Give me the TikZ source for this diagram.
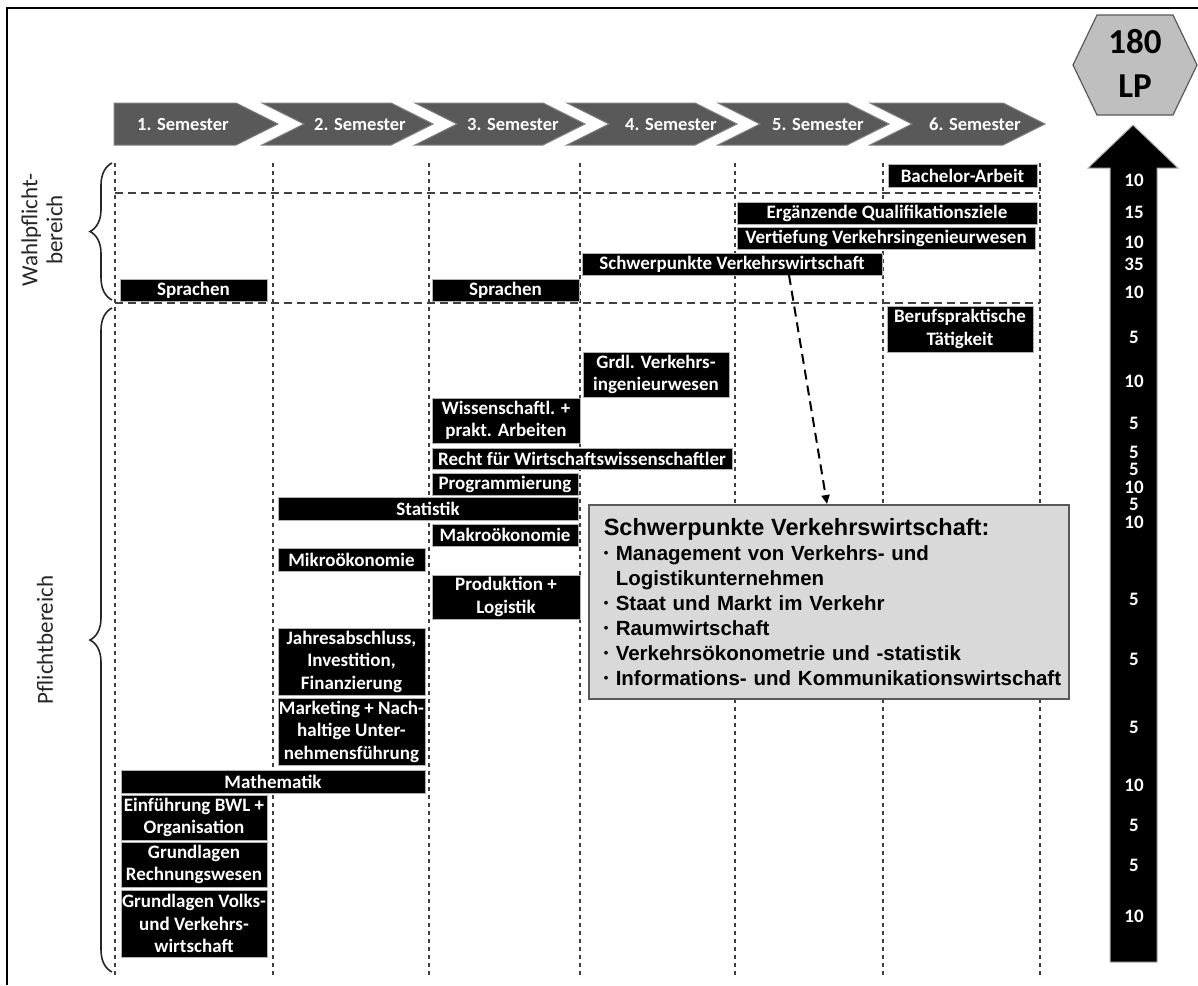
\documentclass[tikz,border=0pt]{standalone}
\usepackage{fontspec}
\setmainfont{Carlito}
\newfontfamily\arialf{Liberation Sans}
\usetikzlibrary{decorations.pathreplacing,calc,arrows.meta}
\definecolor{chevgray}{HTML}{595959}
\definecolor{chevline}{HTML}{7F7F7F}
\definecolor{boxgray}{HTML}{D9D9D9}
\definecolor{hexgray}{HTML}{BFBFBF}
\newcommand{\modbox}[6]{\node[modbox, minimum width={#4pt-#2pt}, minimum height={#5pt-#3pt}] (#1) at ({(#2+#4)/2},{(#3+#5)/2}) {#6};}
\newcommand{\bul}{\makebox[12pt][l]{\raisebox{2.5pt}{\fontsize{13}{13}\selectfont\textbullet}}}
\begin{document}
\begin{tikzpicture}[x=1pt,y=-1pt,
  modbox/.style={fill=black, draw=gray!60, line width=0.8pt, text=white, font=\bfseries\fontsize{19}{22.5}\selectfont, inner sep=0pt, outer sep=0pt, align=center},
  chev/.style={fill=chevgray, draw=chevline, line width=1pt},
  semlabel/.style={text=white, font=\bfseries\fontsize{18.5}{22}\selectfont, inner sep=0pt},
  vgrid/.style={dash pattern=on 4pt off 4pt, line width=1.6pt, draw=black!75},
  hgrid/.style={dash pattern=on 8pt off 5pt, line width=1.6pt, draw=black!75},
  lpnum/.style={text=white, font=\bfseries\fontsize{19}{22}\selectfont, inner sep=0pt, text height=11.5pt, text depth=0pt},
  bracestyle/.style={decorate, decoration={brace, amplitude=22pt}, line width=1.6pt, draw=black!85},
  sidelabel/.style={rotate=90, align=center, font=\fontsize{23}{25}\selectfont, text=black!85},
]
\useasboundingbox (0,0) rectangle (1198,985);
\fill[white] (0,0) rectangle (1198,985);
\draw[line width=2.5pt] (1198,8) -- (7,8) -- (7,985);

% grid
\foreach \x in {115,273,429,580,735,883,1040} \draw[vgrid] (\x,163) -- (\x,975);
\draw[hgrid] (115,193) -- (1040,193);
\draw[hgrid] (115,303) -- (1040,303);

% braces and side labels
\draw[bracestyle] (112,300) -- (112,163);
\draw[bracestyle] (112,972) -- (112,308);
\node[sidelabel] (wahl) at (42,230) {Wahlpflicht-\\bereich};
\node[sidelabel] (pflicht) at (45,640) {Pflichtbereich};

% semester chevrons
\draw[chev] (114,103) -- (236,103) -- (278,124) -- (236,145) -- (114,145) -- cycle;
\foreach \L/\S in {262/391, 415/543, 567/695, 718/847, 870/1003}
  \draw[chev] (\L,103) -- (\S,103) -- ({\S+42},124) -- (\S,145) -- (\L,145) -- ({\L+42},124) -- cycle;
\node[semlabel] (s1) at (183,124) {1. Semester};
\node[semlabel] (s2) at (360,124) {2. Semester};
\node[semlabel] (s3) at (513,124) {3. Semester};
\node[semlabel] (s4) at (671,124) {4. Semester};
\node[semlabel] (s5) at (818,124) {5. Semester};
\node[semlabel] (s6) at (975,124) {6. Semester};

% Wahlpflichtbereich
\modbox{mbach}{888}{164}{1037}{187}{Bachelor-Arbeit}
\modbox{merg}{737}{202}{1037}{224}{Ergänzende Qualifikationsziele}
\modbox{mvert}{737}{227}{1035}{249}{Vertiefung Verkehrsingenieurwesen}
\modbox{sv}{582}{253}{882}{275}{Schwerpunkte Verkehrswirtschaft}
\modbox{mspra}{120}{279}{267}{301}{Sprachen}
\modbox{msprb}{432}{279}{579}{301}{Sprachen}

% Pflichtbereich
\modbox{mberuf}{887}{306}{1033}{352}{Berufspraktische\\Tätigkeit}
\modbox{mgrdl}{583}{352}{729}{397}{Grdl. Verkehrs-\\ingenieurwesen}
\modbox{mwiss}{432}{398}{580}{443}{Wissenschaftl. +\\prakt. Arbeiten}
\modbox{mrecht}{432}{448}{732}{469}{Recht für Wirtschaftswissenschaftler}
\modbox{mprog}{432}{473}{578}{495}{Programmierung}
\modbox{mstat}{278}{497}{578}{520}{Statistik}
\modbox{mmakro}{432}{524}{578}{546}{Makroökonomie}
\modbox{mmikro}{278}{548}{425}{571}{Mikroökonomie}
\modbox{mprod}{432}{575}{580}{619}{Produktion +\\Logistik}
\modbox{mjahr}{278}{628}{425}{695}{Jahresabschluss,\\Investition,\\Finanzierung}
\modbox{mmark}{278}{698}{425}{765}{Marketing + Nach-\\haltige Unter-\\nehmensführung}
\modbox{mmath}{121}{770}{425}{793}{Mathematik}
\modbox{meinf}{121}{795}{267}{840}{Einführung BWL +\\Organisation}
\modbox{mrech}{121}{842}{267}{887}{Grundlagen\\Rechnungswesen}
\modbox{mvolks}{121}{890}{267}{957}{Grundlagen Volks-\\und Verkehrs-\\wirtschaft}

% detail box
\node[fill=boxgray, draw=black!65, line width=1.5pt, anchor=north west, text width=450pt, inner xsep=15pt, inner ysep=0pt, minimum height=194pt, align=left, font=\arialf\bfseries\fontsize{20.5}{25}\selectfont] (detail) at (588,504)
{\mbox{\fontsize{23.5}{27}\selectfont Schwerpunkte Verkehrswirtschaft:}\\
\mbox{\bul Management von Verkehrs- und}\\
\mbox{\hspace*{12pt}Logistikunternehmen}\\
\mbox{\bul Staat und Markt im Verkehr}\\
\mbox{\bul Raumwirtschaft}\\
\mbox{\bul Verkehrsökonometrie und -statistik}\\
\mbox{\bul Informations- und Kommunikationswirtschaft}};

\draw[dash pattern=on 10pt off 6pt, line width=2pt, -{Triangle[length=9pt,width=8pt]}] ($(sv.south west)+(207,0)$) -- ($(detail.north west)+(239,0)$);

% 180 LP
\draw[fill=hexgray, draw=gray!70!black, line width=1.2pt] (1073,65) -- (1097,15) -- (1173,15) -- (1197,65) -- (1173,115) -- (1097,115) -- cycle;
\node[font=\bfseries\fontsize{35}{44}\selectfont, align=center, inner sep=0pt] (lp) at (1135,63) {180\\LP};

\draw[fill=black, draw=gray!60, line width=1pt] (1133,125) -- (1178,168) -- (1157,168) -- (1157,962) -- (1110,962) -- (1110,168) -- (1088,168) -- cycle;
\foreach \v/\y in {10/181, 15/213, 10/243, 35/265, 10/293, 5/338, 10/382, 5/424, 5/453, 5/470, 10/488, 5/505, 10/523, 5/600, 5/660, 5/728, 10/786, 5/826, 5/866, 10/917}
  \node[lpnum] (n\y) at (1134,\y) {\v};
\end{tikzpicture}
\end{document}
